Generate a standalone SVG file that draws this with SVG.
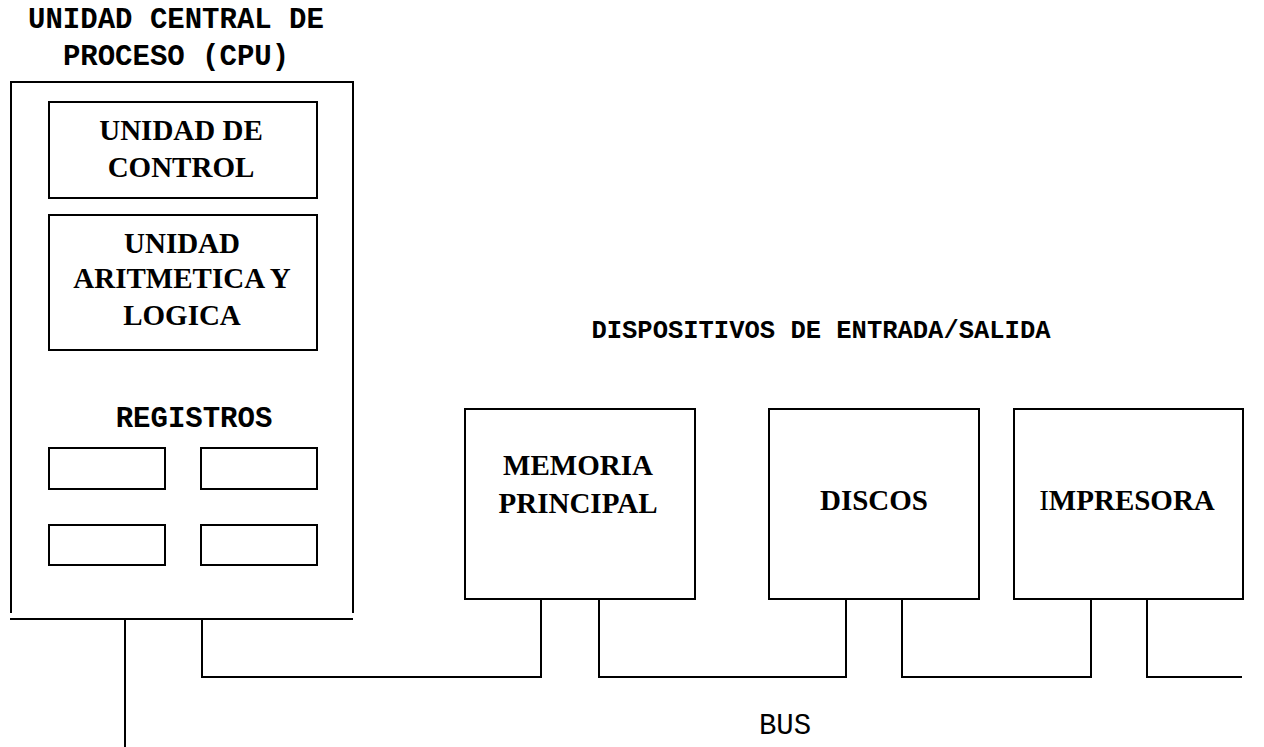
<svg xmlns="http://www.w3.org/2000/svg" width="1264" height="747" viewBox="0 0 1264 747">
<style>
.box{fill:none;stroke:#000;stroke-width:2}
.ln{fill:none;stroke:#000;stroke-width:2}
.mono{font-family:"Liberation Mono","Courier New",monospace;font-weight:bold;text-anchor:middle;fill:#000}
.bus{font-family:"Liberation Mono","Courier New",monospace;font-weight:normal;text-anchor:middle;fill:#000}
.serif{font-family:"Liberation Serif","Times New Roman",serif;font-weight:bold;font-size:29px;text-anchor:middle;fill:#000}
</style>
<rect width="1264" height="747" fill="#fff"/>
<g id="cpu">
<text class="mono" x="176" y="28" font-size="29">UNIDAD CENTRAL DE</text>
<text class="mono" x="176" y="65" font-size="29">PROCESO (CPU)</text>
<path class="ln" d="M11,613 V82 H353 V613"/>
</g>
<g id="control">
<rect class="box" x="49" y="102" width="268" height="96"/>
<text class="serif" x="181" y="140">UNIDAD DE</text>
<text class="serif" x="181" y="177">CONTROL</text>
</g>
<g id="alu">
<rect class="box" x="49" y="215" width="268" height="135"/>
<text class="serif" x="182" y="253">UNIDAD</text>
<text class="serif" x="182" y="288">ARITMETICA Y</text>
<text class="serif" x="182" y="325">LOGICA</text>
</g>
<g id="registros">
<text class="mono" x="194" y="427" font-size="29">REGISTROS</text>
<rect class="box" x="49" y="448" width="116" height="41"/>
<rect class="box" x="201" y="448" width="116" height="41"/>
<rect class="box" x="49" y="525" width="116" height="40"/>
<rect class="box" x="201" y="525" width="116" height="40"/>
</g>
<g id="io-label">
<text class="mono" x="821" y="338" font-size="25.5">DISPOSITIVOS DE ENTRADA/SALIDA</text>
</g>
<g id="memoria">
<rect class="box" x="465" y="409" width="230" height="190"/>
<text class="serif" x="578" y="475">MEMORIA</text>
<text class="serif" x="578" y="513">PRINCIPAL</text>
</g>
<g id="discos">
<rect class="box" x="769" y="409" width="210" height="190"/>
<text class="serif" x="874" y="510">DISCOS</text>
</g>
<g id="impresora">
<rect class="box" x="1014" y="409" width="229" height="190"/>
<text class="serif" x="1127" y="510"><tspan font-weight="normal">I</tspan>MPRESORA</text>
</g>
<g id="connectors">
<path class="ln" d="M10,619 H353"/>
<path class="ln" d="M125,619 V747"/>
<path class="ln" d="M202,619 V677 H541 V599"/>
<path class="ln" d="M599,599 V677 H846 V599"/>
<path class="ln" d="M902,599 V677 H1091 V599"/>
<path class="ln" d="M1147,599 V677 H1242"/>
</g>
<g id="bus-label">
<text class="bus" x="785" y="734" font-size="29">BUS</text>
</g>
</svg>
